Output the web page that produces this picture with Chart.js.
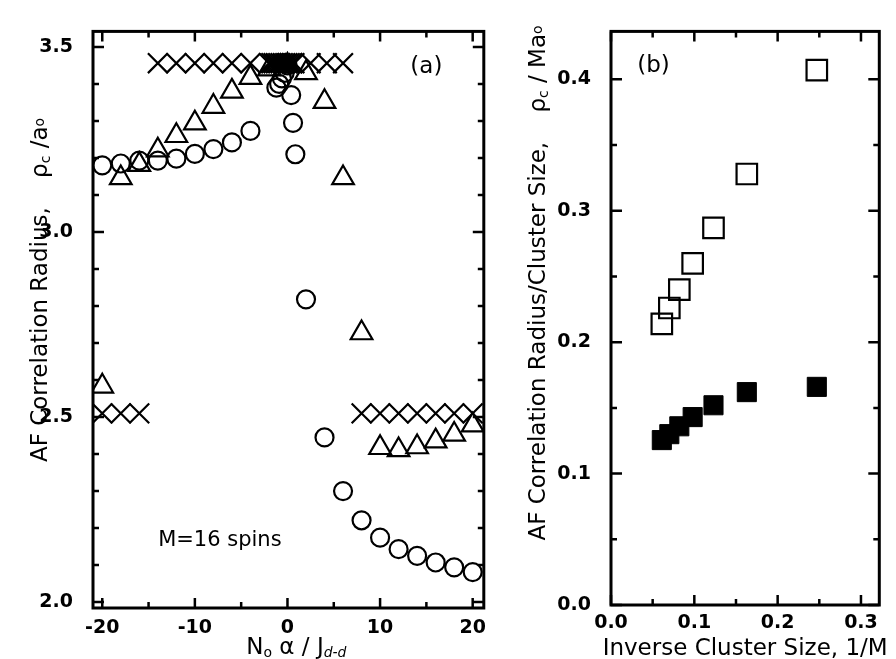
<!DOCTYPE html>
<html><head><meta charset="utf-8">
<script src="https://cdn.jsdelivr.net/npm/chart.js@4.4.0/dist/chart.umd.min.js"></script>
<style>
html,body{margin:0;padding:0;background:#fff;}
#wrap{position:relative;width:896px;height:659px;overflow:hidden;}
#ca{position:absolute;left:0;top:0;}
#cb{position:absolute;left:500px;top:0;}
</style></head><body>
<div id="wrap"><canvas id="ca" width="500" height="659"></canvas><canvas id="cb" width="396" height="659"></canvas></div>
<script>
// ---------- Panel (a) data ----------
const circleX = [-20,-18,-16,-14,-12,-10,-8,-6,-4,-1.2,-0.9,-0.6,-0.3,0,0.4,0.6,0.85,2,4,6,8,10,12,14,16,18,20];
const circleY = [3.18,3.185,3.193,3.193,3.198,3.211,3.224,3.242,3.273,3.39,3.40,3.415,3.43,3.45,3.37,3.295,3.21,2.818,2.445,2.30,2.221,2.174,2.143,2.125,2.107,2.094,2.081];
const triX = [-20,-18,-16,-14,-12,-10,-8,-6,-4,-2,0,2,4,6,8,10,12,14,16,18,20];
const triY = [2.583,3.146,3.182,3.221,3.26,3.294,3.339,3.38,3.417,3.44,3.45,3.43,3.352,3.146,2.727,2.417,2.411,2.419,2.435,2.453,2.478];
const crossX = [-20,-18,-16,-14,-12,-10,-8,-6,-4,-2,-1.75,-1.5,-1.25,-1,-0.75,-0.5,-0.25,0,0.25,0.5,0.75,2.5,4.25,6,8,10,12,14,16,18,20];
const crossY = [2.51,2.51,2.51,3.456,3.456,3.456,3.456,3.456,3.456,3.456,3.456,3.456,3.456,3.456,3.456,3.456,3.456,3.456,3.456,3.456,3.456,3.456,3.456,3.456,2.51,2.51,2.51,2.51,2.51,2.51,2.51];
const xTicksA = [-20,-10,0,10,20];
const xMinorA = [-15,-5,5,15];
const yTicksA = [2.0,2.5,3.0,3.5];
const yMinorA = [2.1,2.2,2.3,2.4,2.6,2.7,2.8,2.9,3.1,3.2,3.3,3.4];

// ---------- Panel (b) data ----------
const invM = [0.061,0.070,0.082,0.098,0.123,0.163,0.247];
const openSq = [0.214,0.226,0.240,0.260,0.287,0.328,0.407];
const filledSq = [0.1255,0.130,0.136,0.143,0.152,0.162,0.166];
const xTicksB = [0.0,0.1,0.2,0.3];
const xMinorB = [0.05,0.15,0.25];
const yTicksB = [0.0,0.1,0.2,0.3,0.4];
const yMinorB = [0.05,0.15,0.25,0.35];

const FONT = 'DejaVu Sans';
const tickFont = {family: FONT, size: 19, weight: 'bold'};

function pts(xs, ys){ return xs.map((x,i)=>({x:x, y:ys[i]})); }

function drawRich(ctx, parts, x, y, rot){
  ctx.save();
  ctx.translate(x, y);
  if (rot) ctx.rotate(rot);
  let total = 0;
  parts.forEach(p=>{ ctx.font = p.f; total += ctx.measureText(p.t).width; });
  let cx = -total/2;
  ctx.fillStyle = '#000';
  ctx.textBaseline = 'alphabetic';
  ctx.textAlign = 'left';
  parts.forEach(p=>{ ctx.font = p.f; ctx.fillText(p.t, cx, p.dy||0); cx += ctx.measureText(p.t).width; });
  ctx.restore();
}

function makeFrame(cfg){
  return {
    id: 'frame'+cfg.name,
    afterDraw(chart){
      const ctx = chart.ctx, a = chart.chartArea;
      const xs = chart.scales.x, ys = chart.scales.y;
      ctx.save();
      ctx.strokeStyle = '#000';
      ctx.lineWidth = 3;
      ctx.strokeRect(a.left, a.top, a.right-a.left, a.bottom-a.top);
      ctx.lineWidth = 2.5;
      const tick = (vals, len, horiz) => {
        vals.forEach(v=>{
          ctx.beginPath();
          if (horiz){
            const px = xs.getPixelForValue(v);
            ctx.moveTo(px, a.bottom); ctx.lineTo(px, a.bottom-len);
            ctx.moveTo(px, a.top); ctx.lineTo(px, a.top+len);
          } else {
            const py = ys.getPixelForValue(v);
            ctx.moveTo(a.left, py); ctx.lineTo(a.left+len, py);
            ctx.moveTo(a.right, py); ctx.lineTo(a.right-len, py);
          }
          ctx.stroke();
        });
      };
      tick(cfg.xMajor, 10, true); tick(cfg.xMinor, 6, true);
      tick(cfg.yMajor, 11, false); tick(cfg.yMinor, 6, false);
      ctx.fillStyle = '#000';
      ctx.textAlign = 'center'; ctx.textBaseline = 'middle';
      cfg.notes.forEach(n=>{
        ctx.font = n.f;
        ctx.fillText(n.t, xs.getPixelForValue(n.x), ys.getPixelForValue(n.y));
      });
      ctx.restore();
      cfg.titles(ctx, a);
    }
  };
}

Chart.defaults.font.family = FONT;
Chart.defaults.color = '#000';

const baseDs = {borderColor:'#000', backgroundColor:'rgba(0,0,0,0)', borderWidth:2.2, showLine:false};

// ---------- Chart (a) ----------
new Chart(document.getElementById('ca'), {
  type: 'scatter',
  data: {datasets: [
    Object.assign({label:'X', data: pts(crossX, crossY), pointStyle:'crossRot', pointRadius:14}, baseDs),
    Object.assign({label:'O', data: pts(circleX, circleY), pointStyle:'circle', pointRadius:9}, baseDs),
    Object.assign({label:'T', data: pts(triX, triY), pointStyle:'triangle', pointRadius:12.5}, baseDs)
  ]},
  options: {
    responsive:false, animation:false, devicePixelRatio:1,
    layout:{padding:{left:0,right:8,top:7,bottom:0}},
    plugins:{legend:{display:false}, tooltip:{enabled:false}},
    elements:{point:{hoverRadius:0}},
    scales:{
      x:{type:'linear', min:-21, max:21.2,
         afterBuildTicks: s=>{ s.ticks = xTicksA.map(v=>({value:v})); },
         afterFit: s=>{ s.height = 51; },
         grid:{display:false, drawTicks:false}, border:{display:false},
         ticks:{font:tickFont, color:'#000', padding:9, maxRotation:0, callback:v=>String(v)}},
      y:{type:'linear', min:1.984, max:3.542,
         afterBuildTicks: s=>{ s.ticks = yTicksA.map(v=>({value:v})); },
         afterFit: s=>{ s.width = 93; },
         grid:{display:false, drawTicks:false}, border:{display:false},
         ticks:{font:tickFont, color:'#000', padding:20, callback:v=>Number(v).toFixed(1)}}
    }
  },
  plugins:[makeFrame({name:'a', xMajor:xTicksA, xMinor:xMinorA, yMajor:yTicksA, yMinor:yMinorA,
    notes:[{t:'(a)', x:15, y:3.445, f:'23px '+FONT}, {t:'M=16 spins', x:-7.3, y:2.167, f:'21px '+FONT}],
    titles:(ctx,a)=>{
      const F = '23px '+FONT, S = '14px '+FONT, SI = 'italic 14px '+FONT;
      drawRich(ctx, [{t:'N',f:F},{t:'o',f:S,dy:3},{t:' α / J',f:F},{t:'d-d',f:SI,dy:3}], (a.left+a.right)/2+8, 654, 0);
      drawRich(ctx, [{t:'AF Correlation Radius,    ',f:F},{t:'ρ',f:F},{t:'c',f:S,dy:3},{t:' /a',f:F},{t:'o',f:S,dy:-3}], 47, 290, -Math.PI/2);
    }})]
});

// ---------- Chart (b) ----------
new Chart(document.getElementById('cb'), {
  type: 'scatter',
  data: {datasets: [
    Object.assign({label:'open', data: pts(invM, openSq), pointStyle:'rect', pointRadius:14.5}, baseDs),
    Object.assign({label:'filled', data: pts(invM, filledSq), pointStyle:'rect', pointRadius:13.5}, baseDs, {backgroundColor:'#000', borderWidth:1})
  ]},
  options: {
    responsive:false, animation:false, devicePixelRatio:1,
    layout:{padding:{left:0,right:9,top:7,bottom:0}},
    plugins:{legend:{display:false}, tooltip:{enabled:false}},
    elements:{point:{hoverRadius:0}},
    scales:{
      x:{type:'linear', min:0, max:0.322,
         afterBuildTicks: s=>{ s.ticks = xTicksB.map(v=>({value:v})); },
         afterFit: s=>{ s.height = 54; },
         grid:{display:false, drawTicks:false}, border:{display:false},
         ticks:{font:tickFont, color:'#000', padding:7, maxRotation:0, callback:v=>Number(v).toFixed(1)}},
      y:{type:'linear', min:0, max:0.4365,
         afterBuildTicks: s=>{ s.ticks = yTicksB.map(v=>({value:v})); },
         afterFit: s=>{ s.width = 111; },
         grid:{display:false, drawTicks:false}, border:{display:false},
         ticks:{font:tickFont, color:'#000', padding:20, callback:v=>Number(v).toFixed(1)}}
    }
  },
  plugins:[makeFrame({name:'b', xMajor:xTicksB, xMinor:xMinorB, yMajor:yTicksB, yMinor:yMinorB,
    notes:[{t:'(b)', x:0.051, y:0.41, f:'23px '+FONT}],
    titles:(ctx,a)=>{
      const F = '23px '+FONT, S = '14px '+FONT;
      drawRich(ctx, [{t:'Inverse Cluster Size, 1/M',f:F}], (a.left+a.right)/2, 655, 0);
      drawRich(ctx, [{t:'AF Correlation Radius/Cluster Size,    ',f:F},{t:'ρ',f:F},{t:'c',f:S,dy:3},{t:' / Ma',f:F},{t:'o',f:S,dy:-3}], 45, 283, -Math.PI/2);
    }})]
});
</script>
</body></html>
